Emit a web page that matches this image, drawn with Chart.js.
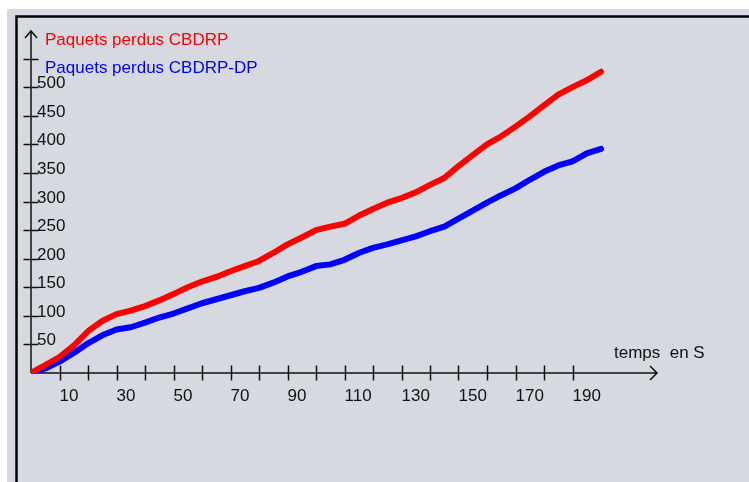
<!DOCTYPE html>
<html>
<head>
<meta charset="utf-8">
<script src="https://cdn.jsdelivr.net/npm/chart.js@4/dist/chart.umd.min.js"></script>
<style>
  html, body { margin: 0; padding: 0; background: #ffffff; overflow: hidden; }
  canvas { display: block; }
</style>
</head>
<body>
<canvas id="c" width="749" height="482"></canvas>
<script>
// Simulation time (s)
const seconds = [0, 5, 10, 15, 20, 25, 30, 35, 40, 45, 50, 55, 60, 65, 70, 75, 80, 85, 90, 95, 100,
                 105, 110, 115, 120, 125, 130, 135, 140, 145, 150, 155, 160, 165, 170, 175, 180, 185, 190, 195, 200];

// Cumulative lost packets
const lostCBDRP = [0, 14, 28, 48, 73, 91, 103, 109, 117, 127, 138, 150, 160, 168, 178, 187, 196, 210, 225, 237, 250,
                   256, 261, 275, 287, 298, 306, 316, 329, 341, 362, 381, 400, 414, 431, 449, 468, 487, 500, 512, 527];
const lostCBDRPDP = [0, 8, 20, 35, 52, 66, 76, 80, 88, 97, 104, 113, 122, 129, 136, 143, 149, 158, 169, 177, 187,
                     190, 198, 210, 219, 225, 232, 239, 248, 256, 270, 284, 298, 311, 323, 338, 352, 363, 370, 384, 392];

const seriesNames = ['Paquets perdus CBDRP', 'Paquets perdus CBDRP-DP'];
const seriesColors = ['#ff0000', '#0000ff'];

// Axis ticks
const xTickValues = [10, 20, 30, 40, 50, 60, 70, 80, 90, 100, 110, 120, 130, 140, 150, 160, 170, 180, 190];
const xTickLabels = ['10', '', '30', '', '50', '', '70', '', '90', '', '110', '', '130', '', '150', '', '170', '', '190'];
const yTickValues = [50, 100, 150, 200, 250, 300, 350, 400, 450, 500, 550];
const yTickLabels = ['50', '100', '150', '200', '250', '300', '350', '400', '450', '500', ''];
const xAxisTitle = 'temps  en S';

const FONT = '17px "Liberation Sans", Arial, sans-serif';
const INK = '#111111';

const panel = {
  id: 'panel',
  beforeDraw(chart) {
    const c = chart.ctx, w = chart.width, h = chart.height;
    c.save();
    c.fillStyle = '#ffffff';
    c.fillRect(0, 0, w, h);
    c.fillStyle = '#d6d9e0';
    c.fillRect(7, 9, w, h);
    c.strokeStyle = '#000000';
    c.lineWidth = 2.5;
    c.beginPath();
    c.moveTo(16.5, h);
    c.lineTo(16.5, 16.5);
    c.lineTo(w, 16.5);
    c.stroke();
    c.restore();
  },
  beforeDatasetsDraw(chart) {
    const c = chart.ctx;
    const { x, y } = chart.scales;
    const x0 = x.getPixelForValue(0), y0 = y.getPixelForValue(0);
    const xEnd = x.right - 1, yEnd = y.top + 1;
    c.save();
    c.strokeStyle = INK;
    c.lineWidth = 1.5;
    // axis lines with arrow heads
    c.beginPath();
    c.moveTo(x0, y0); c.lineTo(xEnd, y0);
    c.moveTo(xEnd - 7, y0 - 7); c.lineTo(xEnd, y0); c.lineTo(xEnd - 7, y0 + 7);
    c.moveTo(x0, y0); c.lineTo(x0, yEnd);
    c.moveTo(x0 - 6, yEnd + 7); c.lineTo(x0, yEnd); c.lineTo(x0 + 6, yEnd + 7);
    c.stroke();
    // crossing tick marks
    c.beginPath();
    xTickValues.forEach(v => {
      const px = Math.round(x.getPixelForValue(v)) + 0.5;
      c.moveTo(px, y0 - 7.5); c.lineTo(px, y0 + 7.5);
    });
    yTickValues.forEach(v => {
      const py = Math.round(y.getPixelForValue(v)) + 0.5;
      c.moveTo(x0 - 7.5, py); c.lineTo(x0 + 7.5, py);
    });
    c.stroke();
    // tick labels
    c.fillStyle = INK;
    c.font = FONT;
    c.textAlign = 'left';
    c.textBaseline = 'alphabetic';
    xTickValues.forEach((v, i) => {
      if (xTickLabels[i]) c.fillText(xTickLabels[i], x.getPixelForValue(v), y0 + 28);
    });
    yTickValues.forEach((v, i) => {
      if (yTickLabels[i]) c.fillText(yTickLabels[i], x0 + 6, y.getPixelForValue(v) + 1);
    });
    c.fillText(xAxisTitle, 614, y0 - 15);
    c.restore();
  },
  afterDatasetsDraw(chart) {
    const c = chart.ctx;
    c.save();
    c.font = FONT;
    c.textAlign = 'left';
    c.textBaseline = 'alphabetic';
    seriesNames.forEach((name, i) => {
      c.fillStyle = seriesColors[i];
      c.fillText(name, 45, 45 + i * 28);
    });
    c.restore();
  }
};

const toPoints = vals => seconds.map((s, i) => ({ x: s, y: vals[i] }));

new Chart(document.getElementById('c'), {
  type: 'line',
  data: {
    datasets: [
      {
        label: seriesNames[0],
        data: toPoints(lostCBDRP),
        borderColor: seriesColors[0],
        backgroundColor: seriesColors[0],
        borderWidth: 6,
        borderCapStyle: 'round',
        borderJoinStyle: 'round',
        pointRadius: ctx => (ctx.dataIndex === 0 ? 4 : 0),
        pointBorderWidth: 0,
        tension: 0,
        order: 0
      },
      {
        label: seriesNames[1],
        data: toPoints(lostCBDRPDP),
        borderColor: seriesColors[1],
        backgroundColor: seriesColors[1],
        borderWidth: 6,
        borderCapStyle: 'round',
        borderJoinStyle: 'round',
        pointRadius: 0,
        tension: 0,
        order: 1
      }
    ]
  },
  options: {
    responsive: false,
    animation: false,
    devicePixelRatio: 1,
    layout: { padding: { left: 31, top: 30, right: 91, bottom: 109 } },
    plugins: { legend: { display: false }, tooltip: { enabled: false } },
    scales: {
      x: { type: 'linear', min: 0, max: 220, display: false },
      y: { type: 'linear', min: 0, max: 600, display: false }
    }
  },
  plugins: [panel]
});
</script>
</body>
</html>
